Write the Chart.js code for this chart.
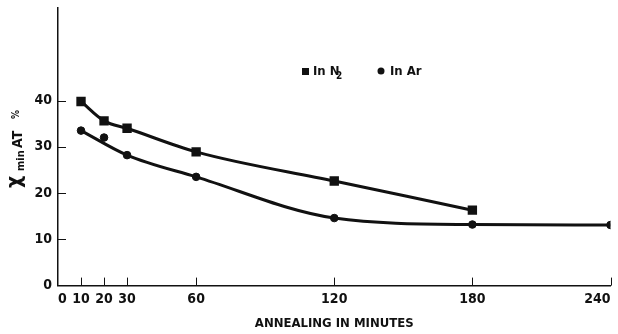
<!DOCTYPE html>
<html>
<head>
<meta charset="utf-8">
<script src="https://cdn.jsdelivr.net/npm/chart.js@4/dist/chart.umd.min.js"></script>
<style>
  html, body { margin: 0; padding: 0; background: #fff; }
  #wrap { width: 618px; height: 334px; position: relative; }
</style>
</head>
<body>
<div id="wrap"><canvas id="chart"></canvas></div>
<script>
// annealing time (minutes)
const xTicks = [0, 10, 20, 30, 60, 120, 180, 240];
const yTicks = [0, 10, 20, 30, 40];

const n2Minutes = [10, 20, 30, 60, 120, 180];
const n2Values = [39.8, 35.6, 34.0, 28.9, 22.6, 16.3];

const arMinutes = [10, 20, 30, 60, 120, 180, 240];
const arValues = [33.5, 32.0, 28.2, 23.5, 14.6, 13.2, 13.1];

// smooth curve drawn through the Ar points (the 20 min point sits off the line)
const arCurveMinutes = [10, 30, 60, 120, 180, 240];
const arCurveValues = [33.5, 28.2, 23.5, 14.6, 13.2, 13.1];

const FONT = '"Liberation Sans Narrow", "DejaVu Sans Condensed", sans-serif';
const toXY = (xs, ys) => xs.map((x, i) => ({ x: x, y: ys[i] }));

// inward tick marks, axis title and legend drawn on top
const decor = {
  id: 'decor',
  afterDraw(chart) {
    const ctx = chart.ctx;
    const xs = chart.scales.x, ys = chart.scales.y;
    const left = chart.chartArea.left, bottom = chart.chartArea.bottom;
    ctx.save();
    ctx.strokeStyle = '#111';
    ctx.lineWidth = 1;
    xTicks.forEach((v) => {
      if (v === 0) return;
      const px = Math.round(xs.getPixelForValue(v)) + 0.5;
      ctx.beginPath(); ctx.moveTo(px, bottom); ctx.lineTo(px, bottom - 8); ctx.stroke();
    });
    yTicks.forEach((v) => {
      if (v === 0) return;
      const py = Math.round(ys.getPixelForValue(v)) + 0.5;
      ctx.beginPath(); ctx.moveTo(left, py); ctx.lineTo(left + 8, py); ctx.stroke();
    });

    // y axis title: chi_min AT %
    ctx.fillStyle = '#111';
    ctx.translate(22, 188);
    ctx.rotate(-Math.PI / 2);
    ctx.textBaseline = 'alphabetic';
    ctx.font = 'bold 21px ' + FONT;
    ctx.fillText('χ', 0, -1);
    ctx.font = 'bold 11px ' + FONT;
    ctx.fillText('min', 17, 2);
    ctx.font = 'bold 14px ' + FONT;
    ctx.fillText('AT', 40, 0);
    ctx.font = 'bold 10px ' + FONT;
    ctx.fillText('%', 69, -3);
    ctx.restore();

    // legend
    ctx.save();
    ctx.fillStyle = '#111';
    ctx.font = 'bold 13px ' + FONT;
    ctx.textBaseline = 'middle';
    ctx.fillRect(302, 68, 7, 7);
    ctx.fillText('In N', 313, 72);
    ctx.font = 'bold 10px ' + FONT;
    ctx.fillText('2', 336, 76);
    ctx.beginPath(); ctx.arc(381, 71, 3.5, 0, Math.PI * 2); ctx.fill();
    ctx.font = 'bold 13px ' + FONT;
    ctx.fillText('In Ar', 390, 72);
    ctx.restore();
  }
};

new Chart(document.getElementById('chart'), {
  type: 'scatter',
  data: {
    datasets: [
      {
        label: 'In N2',
        data: toXY(n2Minutes, n2Values),
        showLine: true,
        cubicInterpolationMode: 'monotone',
        borderColor: '#111',
        backgroundColor: '#111',
        borderWidth: 3,
        pointStyle: 'rect',
        pointRadius: 4.5,
        pointHoverRadius: 4.5
      },
      {
        label: 'In Ar curve',
        data: toXY(arCurveMinutes, arCurveValues),
        showLine: true,
        cubicInterpolationMode: 'monotone',
        borderColor: '#111',
        borderWidth: 3,
        pointRadius: 0
      },
      {
        label: 'In Ar',
        data: toXY(arMinutes, arValues),
        showLine: false,
        borderColor: '#111',
        backgroundColor: '#111',
        pointStyle: 'circle',
        pointRadius: 3.8,
        pointHoverRadius: 3.8
      }
    ]
  },
  options: {
    responsive: true,
    maintainAspectRatio: false,
    animation: false,
    layout: { padding: { top: 8, right: 0, left: 0, bottom: 0 } },
    plugins: { legend: { display: false }, tooltip: { enabled: false } },
    scales: {
      x: {
        type: 'linear',
        min: 0,
        max: 240,
        afterBuildTicks: (axis) => { axis.ticks = xTicks.map((v) => ({ value: v })); },
        afterFit: (axis) => { axis.paddingRight = -3; axis.paddingLeft = 0; },
        grid: { display: false, drawTicks: false },
        border: { display: true, color: '#111', width: 1.5 },
        ticks: {
          color: '#111',
          padding: 5,
          maxRotation: 0,
          autoSkip: false,
          align: 'inner',
          font: { family: FONT, size: 14, weight: 'bold' }
        },
        title: {
          display: true,
          text: 'ANNEALING IN MINUTES',
          color: '#111',
          padding: { top: 3, bottom: 3 },
          font: { family: FONT, size: 13, weight: 'bold' }
        }
      },
      y: {
        type: 'linear',
        min: 0,
        max: 60,
        afterBuildTicks: (axis) => { axis.ticks = yTicks.map((v) => ({ value: v })); },
        grid: { display: false, drawTicks: false },
        border: { display: true, color: '#111', width: 1.5 },
        ticks: {
          color: '#111',
          padding: 6,
          font: { family: FONT, size: 14, weight: 'bold' }
        },
        afterFit: (axis) => { axis.width = 58; axis.paddingTop = 0; axis.paddingBottom = 0; }
      }
    }
  },
  plugins: [decor]
});
</script>
</body>
</html>
